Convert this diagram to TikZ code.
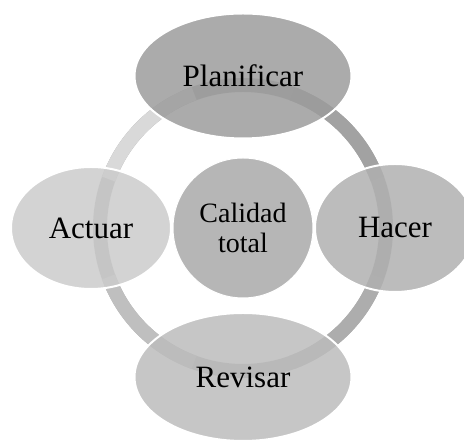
\documentclass[tikz,border=0pt]{standalone}
\usepackage{fontspec}
\setmainfont{Liberation Serif}
\usetikzlibrary{positioning,shapes.geometric}

\definecolor{ringbase}{HTML}{A9A9A9}
\definecolor{segtl}{HTML}{D9D9D9}
\definecolor{segtr}{HTML}{A2A2A2}
\definecolor{segbr}{HTML}{ADADAD}
\definecolor{segbl}{HTML}{BFBFBF}
\definecolor{planfill}{HTML}{9C9C9C}
\definecolor{hacerfill}{HTML}{B0B0B0}
\definecolor{revfill}{HTML}{BCBCBC}
\definecolor{actfill}{HTML}{CBCBCB}
\definecolor{corefill}{HTML}{B6B6B6}

\begin{document}
\begin{tikzpicture}[x=1pt, y=1pt, node distance = 152pt, on grid,
    phase/.style = {ellipse, draw=white, line width=2pt, fill opacity=0.85, text opacity=1,
                    inner sep=0pt, font=\fontsize{31}{36}\selectfont},
    core/.style  = {circle, draw=white, line width=1pt, fill=corefill, minimum size=140pt,
                    inner sep=0pt, align=center, font=\fontsize{28}{30}\selectfont},
    ring/.style  = {line width=14pt}]
                \useasboundingbox (0,0) rectangle (464,443);
                \clip (0,0) rectangle (464,443);
                \coordinate (mid) at (243,215);

                % cycle ring
                \draw[ring, ringbase] (mid) circle[radius=143pt];
                \foreach \a/\c in {45/segtr, 135/segtl, 225/segbl, 315/segbr}
                    \draw[ring, \c] ([shift={(\a-25:143pt)}]mid) arc[start angle=\a-25, end angle=\a+25, radius=143pt];

                \node[core] (calidad) at (mid) {Calidad\\total};
                \node[phase, fill=planfill, minimum width=217pt, minimum height=125pt, above = of calidad] (planificar) {Planificar};
                \node[phase, fill=hacerfill, minimum width=160pt, minimum height=128pt, right = of calidad] (hacer) {Hacer};
                \node[phase, fill=revfill, minimum width=217pt, minimum height=128pt, below = 149pt of calidad] (revisar) {Revisar};
                \node[phase, fill=actfill, minimum width=160pt, minimum height=122pt, left = of calidad] (actuar) {Actuar};
            \end{tikzpicture}
\end{document}
